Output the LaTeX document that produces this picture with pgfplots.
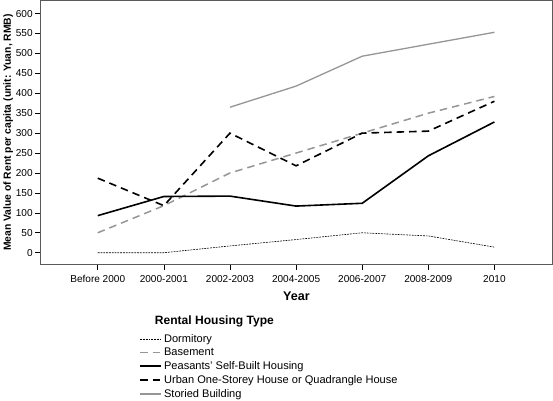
\documentclass[border=0pt]{standalone}
\usepackage{pgfplots}
\pgfplotsset{compat=1.18}
\usepackage{fontspec}
\setmainfont{Liberation Sans}
\definecolor{lgray}{RGB}{150,150,150}
\definecolor{framegray}{RGB}{90,90,90}
\begin{document}
\begin{tikzpicture}
\begin{axis}[
  scale only axis,
  clip=false,
  width=508bp, height=262bp,
  xmin=-0.87, xmax=6.88,
  ymin=-30, ymax=633,
  xtick={0,1,2,3,4,5,6},
  xticklabels={Before 2000,2000-2001,2002-2003,2004-2005,2006-2007,2008-2009,2010},
  ytick={0,50,...,600},
  tick align=outside,
  xtick pos=bottom, ytick pos=left,
  major tick length=5bp,
  tick style={black, line width=0.6pt},
  axis line style={framegray, line width=0.8pt},
  /pgf/number format/assume math mode=true,
  ticklabel style={font=\fontsize{10}{11}\selectfont},
  yticklabel style={xshift=1bp},
  xticklabel style={yshift=-2bp},
  xlabel={\textbf{Year}},
  xlabel style={font=\fontsize{12.5}{14}\selectfont, yshift=-2bp},
  ylabel={\textbf{Mean Value of Rent per capita (unit: Yuan, RMB)}},
  ylabel style={font=\fontsize{10.3}{12}\selectfont, yshift=-4bp},
  legend style={at={(rel axis cs:0.193,-0.255)}, anchor=north west, draw=none,
    font=\fontsize{11}{12}\selectfont, row sep=0.3bp, inner sep=0pt,
    cells={anchor=west}},
  legend image code/.code={\draw[#1] (0bp,0bp) -- (21bp,0bp);},
  legend cell align=left,
]
\addplot[black, line width=0.6pt, dash pattern=on 1.8pt off 1pt] coordinates {(0,0) (1,0) (2,17) (3,33) (4,50) (5,42) (6,14)};
\addlegendentry{Dormitory}
\addplot[lgray, line width=1.5pt, dash pattern=on 7.5pt off 5pt] coordinates {(0,50) (1,118) (2,200) (3,250) (4,300) (5,350) (6,392)};
\addlegendentry{Basement}
\addplot[black, line width=1.6pt] coordinates {(0,93) (1,141) (2,142) (3,117) (4,124) (5,243) (6,328)};
\addlegendentry{Peasants' Self-Built Housing}
\addplot[black, line width=1.6pt, dash pattern=on 7.5pt off 5pt] coordinates {(0,187) (1,118) (2,300) (3,218) (4,300) (5,305) (6,380)};
\addlegendentry{Urban One-Storey House or Quadrangle House}
\addplot[lgray, line width=1.3pt] coordinates {(2,365) (3,418) (4,493) (5,523) (6,553)};
\addlegendentry{Storied Building}
\node[font=\bfseries\fontsize{12}{14}\selectfont, anchor=base] at (rel axis cs:0.34,-0.228) {Rental Housing Type};
\end{axis}
\end{tikzpicture}
\end{document}
